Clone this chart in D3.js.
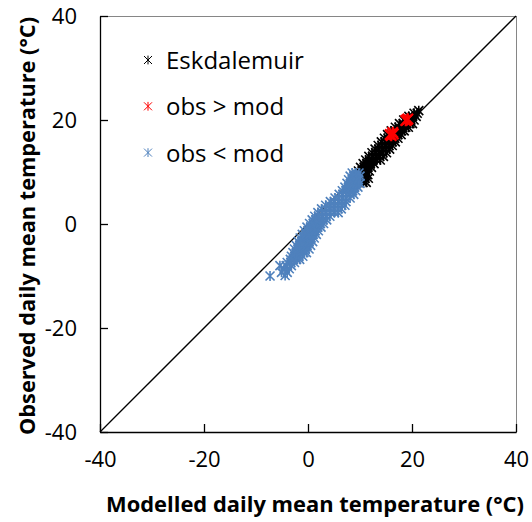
<!DOCTYPE html>
<html>
<head>
<meta charset="utf-8">
<script src="https://cdn.jsdelivr.net/npm/d3@7"></script>
<style>
  body { margin: 0; background: #fff; }
  text { font-family: "Open Sans", sans-serif; fill: #000; }
</style>
</head>
<body>
<svg id="chart" width="532" height="522"></svg>
<script>
// Axis ticks (same on both axes).
var tickValues = [-40, -20, 0, 20, 40];

// Legend / series names.
var seriesNames = ['Eskdalemuir', 'obs > mod', 'obs < mod'];

// Eskdalemuir points, [modelled, observed] in degrees C.
var eskdalemuir = [
  [9.9, 8.0], [10.6, 8.0], [11.2, 8.0],
  [9.6, 8.8], [10.3, 8.8], [11.0, 8.8], [11.6, 8.8],
  [9.4, 9.5], [10.1, 9.5], [10.8, 9.5], [11.5, 9.5],
  [9.7, 10.2], [10.4, 10.2], [11.1, 10.2], [11.8, 10.2],
  [10.1, 10.9], [10.8, 10.9], [11.5, 10.9], [12.2, 10.9],
  [10.6, 11.6], [11.3, 11.6], [12.0, 11.6], [12.7, 11.6],
  [11.1, 12.3], [11.8, 12.3], [12.5, 12.3], [13.2, 12.3], [13.9, 12.3],
  [11.7, 13.0], [12.4, 13.0], [13.1, 13.0], [13.8, 13.0], [14.5, 13.0],
  [12.3, 13.7], [13.0, 13.7], [13.7, 13.7], [14.4, 13.7], [15.1, 13.7],
  [12.9, 14.4], [13.6, 14.4], [14.3, 14.4], [15.0, 14.4], [15.7, 14.4],
  [13.5, 15.1], [14.2, 15.1], [14.9, 15.1], [15.6, 15.1], [16.2, 15.1],
  [14.1, 15.8], [14.8, 15.8], [15.5, 15.8], [16.2, 15.8], [16.8, 15.8],
  [14.7, 16.5], [15.4, 16.5], [16.1, 16.5], [16.7, 16.5], [17.3, 16.5],
  [15.3, 17.2], [16.0, 17.2], [16.7, 17.2], [17.3, 17.2], [17.9, 17.2],
  [16.0, 17.9], [16.7, 17.9], [17.4, 17.9], [18.0, 17.9], [18.5, 17.9],
  [16.8, 18.6], [17.5, 18.6], [18.2, 18.6], [18.8, 18.6], [19.3, 18.6],
  [17.6, 19.3], [18.3, 19.3], [19.0, 19.3], [19.6, 19.3], [20.1, 19.3],
  [18.4, 20.0], [19.1, 20.0], [19.8, 20.0], [20.4, 20.0],
  [19.4, 20.7], [20.1, 20.7], [20.8, 20.7],
  [20.4, 21.3], [21.0, 21.3],
  [21.3, 21.8]
];

// Days where observed is above modelled.
var obsAboveMod = [
  [15.8, 17.2], [16.3, 17.6], [16.0, 17.0], [16.4, 17.3],
  [18.8, 19.9], [19.2, 20.2], [19.0, 20.0]
];

// Days where observed is below modelled.
var obsBelowMod = [
  [-7.3, -10.0], [-4.4, -9.9],
  [-5.1, -9.3], [-4.0, -9.3],
  [-4.6, -8.6], [-3.6, -8.6],
  [-5.4, -8.0], [-4.2, -8.0], [-3.2, -8.0],
  [-4.0, -7.4], [-3.3, -7.4], [-2.6, -7.4],
  [-3.4, -6.8], [-2.8, -6.8], [-2.2, -6.8], [-1.6, -6.8],
  [-3.2, -6.2], [-2.5, -6.2], [-1.8, -6.2], [-1.0, -6.2],
  [-2.9, -5.5], [-2.2, -5.5], [-1.5, -5.5], [-0.8, -5.5], [-0.3, -5.5],
  [-2.6, -4.8], [-1.9, -4.8], [-1.2, -4.8], [-0.5, -4.8], [0.2, -4.8],
  [-2.3, -4.1], [-1.6, -4.1], [-0.9, -4.1], [-0.2, -4.1], [0.5, -4.1],
  [-1.9, -3.4], [-1.2, -3.4], [-0.5, -3.4], [0.2, -3.4], [0.9, -3.4],
  [-1.5, -2.7], [-0.8, -2.7], [-0.1, -2.7], [0.6, -2.7], [1.2, -2.7],
  [-1.1, -2.0], [-0.4, -2.0], [0.3, -2.0], [1.0, -2.0], [1.6, -2.0],
  [-0.7, -1.3], [0.0, -1.3], [0.7, -1.3], [1.4, -1.3], [2.0, -1.3],
  [-0.2, -0.6], [0.5, -0.6], [1.2, -0.6], [1.9, -0.6], [2.5, -0.6],
  [0.3, 0.1], [1.0, 0.1], [1.7, 0.1], [2.4, 0.1], [3.0, 0.1],
  [0.8, 0.8], [1.5, 0.8], [2.2, 0.8], [2.9, 0.8], [3.6, 0.8],
  [1.3, 1.5], [2.0, 1.5], [2.8, 1.5], [3.5, 1.5], [4.2, 1.5],
  [1.9, 2.2], [2.7, 2.2], [3.5, 2.2], [4.3, 2.2], [5.1, 2.2], [5.8, 2.2],
  [2.6, 2.9], [3.4, 2.9], [4.2, 2.9], [5.0, 2.9], [5.8, 2.9], [6.4, 2.9],
  [3.4, 3.6], [4.2, 3.6], [5.0, 3.6], [5.8, 3.6], [6.5, 3.6], [7.1, 3.6],
  [4.3, 4.3], [5.1, 4.3], [5.9, 4.3], [6.6, 4.3], [7.3, 4.3],
  [5.2, 5.0], [5.9, 5.0], [6.6, 5.0], [7.3, 5.0], [8.1, 5.0],
  [6.0, 5.7], [6.7, 5.7], [7.4, 5.7], [8.1, 5.7], [8.8, 5.7],
  [6.6, 6.4], [7.3, 6.4], [8.0, 6.4], [8.6, 6.4], [9.2, 6.4],
  [7.1, 7.1], [7.8, 7.1], [8.4, 7.1], [9.0, 7.1], [9.6, 7.1],
  [7.5, 7.8], [8.2, 7.8], [8.8, 7.8], [9.4, 7.8], [10.0, 7.8],
  [7.8, 8.5], [8.5, 8.5], [9.1, 8.5], [9.7, 8.5],
  [8.1, 9.2], [8.8, 9.2], [9.4, 9.2], [10.0, 9.2],
  [8.5, 9.8], [9.2, 9.8], [9.8, 9.8]
];

// Namespace for the chart, qq for quantile plot.
var qq = {

  // Plot area inside the svg.
  LEFT: 100,
  TOP: 16,
  SIZE: 416,

  // Length of the inward tick marks.
  TICK: 8,

  /**
   * Build an asterisk marker (X plus a vertical bar) around 0,0.
   * @param r Number half size of the marker in px.
   */
  asterisk: function(r) {
    return 'M' + (-r) + ',' + (-r) + 'L' + r + ',' + r +
           'M' + (-r) + ',' + r + 'L' + r + ',' + (-r) +
           'M0,' + (-r * 1.1) + 'L0,' + (r * 1.1);
  },

  /**
   * Draw one series of asterisks.
   * @param g Object d3 selection to draw into.
   * @param data Array of [mod, obs] pairs.
   * @param color String stroke colour.
   * @param r Number marker half size.
   * @param w Number stroke width.
   */
  drawSeries: function(g, data, color, r, w) {
    g.append('g')
      .selectAll('path')
      .data(data)
      .join('path')
        .attr('transform', function(d) {
          return 'translate(' + qq.x(d[0]) + ',' + qq.y(d[1]) + ')';
        })
        .attr('d', qq.asterisk(r))
        .attr('fill', 'none')
        .attr('stroke', color)
        .attr('stroke-width', w);
  },

  init: function() {
    var svg = d3.select('#chart');

    qq.x = d3.scaleLinear().domain([-40, 40])
      .range([qq.LEFT, qq.LEFT + qq.SIZE]);
    qq.y = d3.scaleLinear().domain([-40, 40])
      .range([qq.TOP + qq.SIZE, qq.TOP]);

    // Plot area border (top and right are the lighter frame).
    svg.append('rect')
      .attr('x', qq.LEFT).attr('y', qq.TOP)
      .attr('width', qq.SIZE).attr('height', qq.SIZE)
      .attr('fill', 'none')
      .attr('stroke', '#868686')
      .attr('stroke-width', 1)
      .attr('shape-rendering', 'crispEdges');

    // 1:1 line.
    svg.append('line')
      .attr('x1', qq.x(-40)).attr('y1', qq.y(-40))
      .attr('x2', qq.x(40)).attr('y2', qq.y(40))
      .attr('stroke', '#000')
      .attr('stroke-width', 1.3);

    // Series, in the same order as the legend.
    var marks = svg.append('g');
    qq.drawSeries(marks, eskdalemuir, '#000', 4.5, 1.6);
    qq.drawSeries(marks, obsAboveMod, '#ff0000', 5.2, 2.2);
    qq.drawSeries(marks, obsBelowMod, '#4f81bd', 4.5, 1.6);

    // Axes with ticks pointing into the plot; plain hyphen for negatives.
    var fmt = function(d) { return String(d); };
    var xAxis = d3.axisBottom(qq.x).tickValues(tickValues).tickFormat(fmt)
      .tickSizeInner(-qq.TICK).tickSizeOuter(0).tickPadding(26);
    var yAxis = d3.axisLeft(qq.y).tickValues(tickValues).tickFormat(fmt)
      .tickSizeInner(-qq.TICK).tickSizeOuter(0).tickPadding(25);

    var gx = svg.append('g')
      .attr('transform', 'translate(0,' + (qq.TOP + qq.SIZE) + ')')
      .call(xAxis);
    var gy = svg.append('g')
      .attr('transform', 'translate(' + qq.LEFT + ',0)')
      .call(yAxis);

    [gx, gy].forEach(function(g) {
      g.select('.domain').attr('stroke', '#000').attr('stroke-width', 1.3);
      g.selectAll('.tick line').attr('stroke', '#000').attr('stroke-width', 1.3);
      g.selectAll('.tick text')
        .attr('font-family', '"Open Sans", sans-serif')
        .attr('font-size', 22)
        .attr('fill', '#000');
    });
    gx.selectAll('.tick text').attr('dy', '0.71em').attr('y', 19);
    gy.selectAll('.tick text').attr('x', -23).attr('dy', '0.36em');

    // Axis titles.
    svg.append('text')
      .attr('x', 315).attr('y', 512)
      .attr('text-anchor', 'middle')
      .attr('font-size', 21)
      .attr('font-weight', 'bold')
      .attr('textLength', 418)
      .attr('lengthAdjust', 'spacingAndGlyphs')
      .text('Modelled daily mean temperature (°C)');

    svg.append('text')
      .attr('transform', 'translate(35,226) rotate(-90)')
      .attr('text-anchor', 'middle')
      .attr('font-size', 21)
      .attr('font-weight', 'bold')
      .attr('textLength', 418)
      .attr('lengthAdjust', 'spacingAndGlyphs')
      .text('Observed daily mean temperature (°C)');

    // Legend.
    var legendColors = ['#000', '#ff0000', '#4f81bd'];
    var legend = svg.append('g')
      .selectAll('g')
      .data(seriesNames)
      .join('g')
        .attr('transform', function(d, i) {
          return 'translate(148,' + (60 + i * 46.3) + ')';
        });
    legend.append('path')
      .attr('d', qq.asterisk(4))
      .attr('fill', 'none')
      .attr('stroke', function(d, i) { return legendColors[i]; })
      .attr('stroke-width', 1);
    legend.append('text')
      .attr('x', 18).attr('y', 9)
      .attr('font-size', 24)
      .text(function(d) { return d; });
  }
};

qq.init();
</script>
</body>
</html>
